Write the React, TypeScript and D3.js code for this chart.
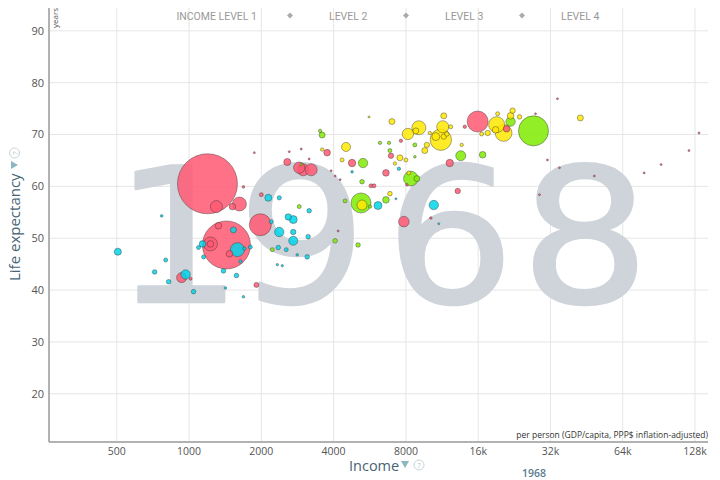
import React from "react";
import * as d3 from "d3";

// [income per person, life expectancy, population in millions]
const asia: [number, number, number][] = [
  [1193, 60.5, 790], [1431, 48.7, 506], [1300, 56.1, 32], [1621, 56.6, 43],
  [1516, 56.1, 9.6], [1684, 59.9, 1.5], [1326, 52.4, 9.6], [1228, 48.9, 43],
  [1228, 48.9, 9.6], [1473, 47.0, 9.6], [931, 42.4, 22], [1015, 42.2, 2],
  [1907, 41.0, 5.5], [1981, 52.6, 106], [2000, 58.4, 3.5], [2565, 64.7, 11],
  [2876, 63.6, 28.5], [2988, 63.2, 32], [3226, 63.2, 32], [3758, 66.5, 9.6],
  [4774, 64.5, 12], [6608, 62.6, 9.6], [5724, 60.1, 3.5], [5893, 60.1, 3.5],
  [8078, 60.3, 1.5], [7628, 68.8, 2.5], [6932, 65.9, 6.4], [7846, 53.2, 24.7],
  [10161, 53.9, 1.5], [12184, 64.5, 12], [13150, 59.1, 6.4], [14070, 71.5, 2.5],
  [15920, 72.5, 97], [21010, 71.1, 9.6],
  [27730, 74.0, 0.4], [31100, 65.1, 0.4], [34880, 63.6, 0.4], [48750, 62.0, 0.5],
  [28800, 58.4, 0.4], [78630, 62.6, 0.4], [92460, 64.2, 0.4], [120800, 66.9, 0.4],
  [133000, 70.3, 0.5], [34230, 76.9, 0.4], [1870, 66.5, 0.4], [2614, 66.7, 0.4],
  [2932, 67.2, 0.4], [3164, 65.3, 0.4], [3906, 63.0, 0.4], [4059, 62.0, 0.4],
  [4258, 61.3, 0.4], [4177, 51.4, 0.4],
];

const americas: [number, number, number][] = [
  [27200, 70.7, 198], [21830, 72.5, 19.4], [16700, 66.1, 9.6], [13540, 65.9, 22],
  [8391, 61.5, 47], [8888, 61.5, 7.9], [5203, 56.8, 88], [5669, 56.1, 2.5],
  [6608, 57.4, 9.6], [5303, 64.5, 19.4], [6238, 68.4, 2.5], [6803, 68.4, 2.5],
  [6864, 66.9, 3.5], [8718, 68.0, 3.5], [8718, 65.7, 1.5], [5252, 60.9, 4.6],
  [3583, 69.9, 7.9], [3515, 70.7, 2.5], [4466, 57.2, 3.5], [4059, 49.5, 4.6],
  [5056, 48.7, 4.6], [2876, 56.1, 3.5], [2222, 47.8, 3.5], [2932, 64.2, 1.5],
];

const africa: [number, number, number][] = [
  [505, 47.4, 11], [769, 54.3, 1.5], [799, 45.8, 3.5], [719, 43.5, 4.6],
  [822, 41.6, 4.6], [967, 43.0, 19.4], [1044, 39.7, 4.6], [1138, 48.9, 9.6],
  [1095, 48.2, 3.5], [1149, 46.4, 3.5], [1531, 51.6, 7.9], [1590, 47.8, 43],
  [1800, 48.3, 3.5], [1700, 48.0, 2.5], [1636, 45.5, 2.5], [1391, 43.7, 4.6],
  [1575, 42.8, 4.6], [1417, 40.4, 1.5], [1684, 38.7, 1.5], [2139, 57.8, 11],
  [2375, 57.8, 4], [3164, 55.3, 4.6], [2589, 54.1, 9], [2716, 53.6, 14],
  [2201, 53.2, 3.5], [2375, 51.2, 19.4], [2716, 51.2, 6.4], [2716, 49.5, 18],
  [3134, 50.3, 4.6], [2352, 48.2, 4.6], [2540, 47.8, 3.5], [2822, 46.8, 1.5],
  [3104, 46.4, 4.6], [2331, 44.9, 1.2], [2445, 44.7, 1.2], [7481, 63.4, 2.5],
  [6122, 56.3, 14], [7270, 57.6, 0.9], [10454, 56.4, 19.4], [10965, 52.8, 0.9],
  [4774, 62.8, 1.5],
];

const europe: [number, number, number][] = [
  [6999, 72.5, 7.9], [5618, 73.4, 0.9], [4507, 67.6, 18], [4339, 65.1, 3.5],
  [3583, 67.1, 2.5], [7554, 65.5, 7.9], [8000, 65.1, 3.5], [7200, 64.4, 2.5],
  [8230, 62.6, 3.5], [6864, 58.6, 4.6], [5252, 56.4, 22], [8156, 70.1, 28.5],
  [9057, 71.3, 43], [8803, 70.7, 7.9], [11392, 71.5, 32], [11185, 69.0, 100],
  [10659, 69.6, 14], [11503, 69.6, 6.4], [11843, 70.1, 4.6], [12303, 71.5, 3.5],
  [10063, 70.3, 2.5], [9782, 68.0, 6.4], [9593, 66.9, 7.9], [11503, 73.6, 7.9],
  [13663, 68.0, 2.5], [19100, 71.9, 56], [20420, 70.3, 62], [17520, 70.3, 6.4],
  [18910, 70.9, 9.6], [16540, 70.1, 3.5], [21830, 73.6, 9.6], [22260, 74.6, 6.4],
  [19280, 74.0, 3.5], [23790, 73.4, 4.6], [42630, 73.2, 7.9],
];

const regionColors = { asia: "#ff5872", americas: "#7feb00", africa: "#00d5e9", europe: "#ffe700" };

const xTicks = [500, 1000, 2000, 4000, 8000, 16000, 32000, 64000, 128000];
const xTickLabels = ["500", "1000", "2000", "4000", "8000", "16k", "32k", "64k", "128k"];
const yTicks = [20, 30, 40, 50, 60, 70, 80, 90];
const levelLabels = ["INCOME LEVEL 1", "LEVEL 2", "LEVEL 3", "LEVEL 4"];
const year = "1968";

const FONT = "'Open Sans', sans-serif";

export default function App() {
  const x = d3.scaleLog().domain([261, 145000]).range([49, 708]);
  const y = d3.scaleLinear().domain([10.7, 94.4]).range([442, 8]);
  const r = d3.scaleSqrt().domain([0, 790]).range([0, 30]);

  const bubbles = [
    ...asia.map((d) => ({ d, c: regionColors.asia })),
    ...americas.map((d) => ({ d, c: regionColors.americas })),
    ...africa.map((d) => ({ d, c: regionColors.africa })),
    ...europe.map((d) => ({ d, c: regionColors.europe })),
  ].sort((a, b) => b.d[2] - a.d[2]);

  const [x0, x1] = x.range();
  const [yb, yt] = y.range();
  const levelX = [257, 329, 445, 561];
  const diamondX = [290, 406, 522];
  // centres of the big background digits
  const digitX = [178, 302, 450, 585];
  const sx = 1.08;

  return (
    <svg width={720} height={480} style={{ position: "absolute", left: 0, top: 0, background: "#fff" }}>
      {/* grid */}
      {xTicks.map((t) => (
        <line key={"gx" + t} x1={x(t)} x2={x(t)} y1={yt} y2={yb} stroke="#e6e6e6" />
      ))}
      {yTicks.map((t) => (
        <line key={"gy" + t} x1={x0} x2={x1} y1={y(t)} y2={y(t)} stroke="#e6e6e6" />
      ))}

      {/* big year in background */}
      <g transform={`translate(0,302) scale(${sx},1)`}>
        <text y={0} textAnchor="middle" fontFamily="'DejaVu Sans', sans-serif"
          fontSize={188} fill="#ced4da" stroke="#ced4da" strokeWidth={2.5}
          strokeLinejoin="round">
          {year.split("").map((ch, i) => (
            <tspan key={i} x={digitX[i] / sx}>{ch}</tspan>
          ))}
        </text>
      </g>

      {/* header */}
      {levelLabels.map((l, i) => (
        <text key={l} x={levelX[i]} y={20} textAnchor={i === 0 ? "end" : "start"}
          fontFamily="Roboto, sans-serif" fontSize={10.5} fill="#999">{l}</text>
      ))}
      {diamondX.map((dx) => (
        <path key={dx} d={`M${dx},12.5 l3,3 l-3,3 l-3,-3z`} fill="#aaa" />
      ))}

      {/* bubbles */}
      {bubbles.map((b, i) => (
        <circle key={i} cx={x(b.d[0])} cy={y(b.d[1])} r={Math.max(1, r(b.d[2]))}
          fill={b.c} fillOpacity={0.85} stroke="#333" strokeOpacity={0.6} strokeWidth={0.7} />
      ))}

      {/* axes */}
      <line x1={x0} x2={x0} y1={yt} y2={yb} stroke="#999" strokeWidth={1.5} />
      <line x1={x0} x2={x1} y1={yb} y2={yb} stroke="#999" strokeWidth={1.5} />

      {yTicks.map((t) => (
        <text key={"ty" + t} x={44} y={y(t)} dy="0.35em" textAnchor="end"
          fontFamily={FONT} fontSize={11} fill="#555">{t}</text>
      ))}
      {xTicks.map((t, i) => (
        <text key={"tx" + t} x={x(t)} y={455} textAnchor="middle"
          fontFamily={FONT} fontSize={10.5} fill="#555">{xTickLabels[i]}</text>
      ))}

      <text transform={`translate(58,8) rotate(-90)`} textAnchor="end" fontFamily={FONT}
        fontSize={8} fill="#555">years</text>
      <text x={708} y={438} textAnchor="end" fontFamily={FONT} fontSize={8.5} fill="#333">
        per person (GDP/capita, PPP$ inflation-adjusted)
      </text>

      {/* y title */}
      <g transform="translate(20,281) rotate(-90)">
        <text x={0} y={0} fontFamily={FONT} fontSize={15} fill="#476475">Life expectancy</text>
        <path d="M112,-9 l8,0 l-4,7z" fill="#8db5c2" />
        <circle cx={128} cy={-5.5} r={5} fill="none" stroke="#c7d4d9" />
        <text x={128} y={-2.5} textAnchor="middle" fontFamily={FONT} fontSize={8} fill="#b9c8ce">?</text>
      </g>

      {/* x title */}
      <text x={349} y={471} fontFamily={FONT} fontSize={14.5} fill="#476475">Income</text>
      <path d="M401,461 l8,0 l-4,7z" fill="#8db5c2" />
      <circle cx={419} cy={465} r={5} fill="none" stroke="#c7d4d9" />
      <text x={419} y={468} textAnchor="middle" fontFamily={FONT} fontSize={8} fill="#b9c8ce">?</text>

      <text x={534} y={477} textAnchor="middle" fontFamily={FONT} fontSize={10.5} fontWeight={600}
        fill="#5b7d91">{year}</text>
    </svg>
  );
}
